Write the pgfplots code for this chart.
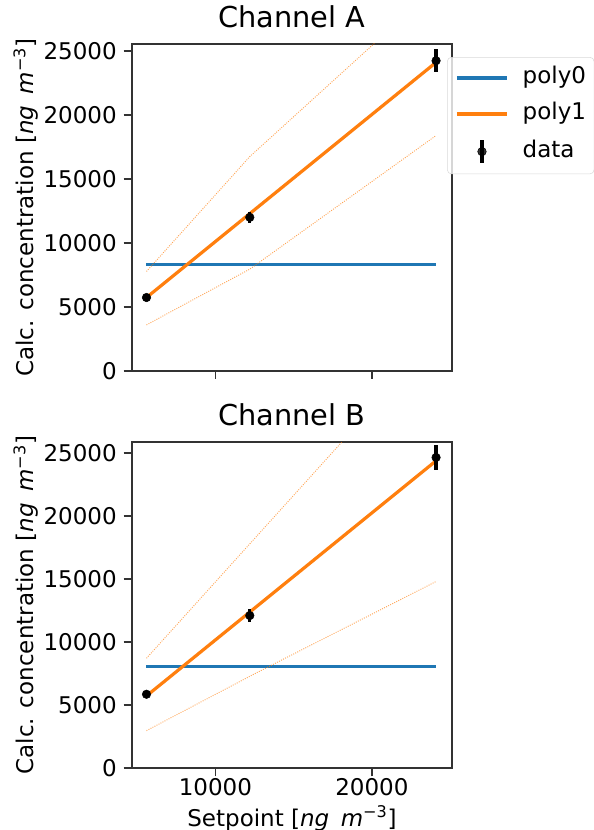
\documentclass[border=0pt]{standalone}
\usepackage{pgfplots}
\pgfplotsset{compat=1.18}
\usepackage{fontspec}
\setmainfont{DejaVu Sans}

\definecolor{tabblue}{RGB}{31,119,180}
\definecolor{taborange}{RGB}{255,127,14}

\newcommand{\unitlabel}{[\textit{ng}\hspace{0.5em}\textit{m}\textsuperscript{−3}]}

\pgfplotsset{
  calib/.style={
    scale only axis,
    width=240.4pt,
    xmin=4655, xmax=25134,
    ymin=0,
    axis line style={line width=1.3pt, black!80},
    tick align=outside,
    tick pos=left,
    major tick length=6pt,
    every tick/.style={line width=1.3pt, black!80},
    xtick={10000,20000},
    ytick={0,5000,10000,15000,20000,25000},
    scaled ticks=false,
    xticklabel={\pgfmathprintnumber[assume math mode=true, set thousands separator={}]{\tick}},
    yticklabel={\pgfmathprintnumber[assume math mode=true, set thousands separator={}]{\tick}},
    tick label style={font=\fontsize{17.25}{20}\selectfont},
    yticklabel style={inner sep=0pt, xshift=-5pt},
    xticklabel style={inner sep=0pt, yshift=-1.5pt},
    title style={font=\fontsize{21.6}{25}\selectfont, at={(axis description cs:0.5,1)}, anchor=base, yshift=6.5pt},
    every axis y label/.style={at={(axis description cs:-0.33,0.5)}, rotate=90, anchor=center, font=\fontsize{17.25}{20}\selectfont},
    every axis x label/.style={at={(axis description cs:0.5,0)}, anchor=base, yshift=-43.5pt, font=\fontsize{17.25}{20}\selectfont},
    ylabel={Calc. concentration \unitlabel},
    legend image code/.code={\draw[#1] (0pt,0pt) -- (37.5pt,0pt);},
  },
  fitline/.style={line width=2.4pt},
  band/.style={taborange, line width=0.7pt, densely dotted, opacity=0.7, forget plot},
  meas/.style={only marks, black, mark=*, mark size=3.2pt,
    error bars/.cd, y dir=both, y explicit, error mark=none,
    error bar style={line width=2.4pt, black},
    /pgfplots/.cd},
}

\begin{document}
\begin{tikzpicture}

% Channel A
\begin{axis}[calib,
  at={(98.78pt,344.25pt)}, anchor=south west,
  height=245.25pt, ymax=25550,
  title={Channel A},
  xticklabels={},
  legend cell align=left,
  legend style={at={(rel axis cs:0.984,0.960)}, anchor=north west,
    draw=black!15, rounded corners=3pt, fill=white, fill opacity=0.8, text opacity=1,
    font=\fontsize{17.25}{20}\selectfont,
    inner xsep=6pt, inner ysep=7pt, row sep=10pt,
    nodes={inner xsep=0pt, inner ysep=0pt, text height=13pt, text depth=4pt},
    /tikz/every odd column/.append style={column sep=10.6pt},
    /tikz/every even column/.append style={column sep=0pt}},
]
\addplot[tabblue, fitline] coordinates {(5600,8300) (24100,8300)};
\addlegendentry{poly0}
\addplot[taborange, fitline] coordinates {(5600,5741) (12200,12296) (24100,24113)};
\addlegendentry{poly1}
\addplot[band] coordinates {(5600,7776) (12200,16754) (24100,29980)};
\addplot[band] coordinates {(5600,3601) (12200,7959) (24100,18398)};
\addplot[meas, legend image code/.code={
    \path[draw=none, fill=none] (0pt,0pt) -- (37.5pt,0pt);
    \draw[black, line width=2.4pt] (18.75pt,-8.5pt) -- (18.75pt,8.5pt);
    \fill[black] (18.75pt,0pt) circle (3.2pt);}]
  coordinates {(5600,5741) +- (0,150) (12200,12004) +- (0,430) (24100,24243) +- (0,913)};
\addlegendentry{data}
\end{axis}

% Channel B
\begin{axis}[calib,
  at={(98.78pt,46.28pt)}, anchor=south west,
  height=244.7pt, ymax=25880,
  title={Channel B},
  xlabel={Setpoint \unitlabel},
]
\addplot[tabblue, fitline] coordinates {(5600,8069) (24100,8069)};
\addplot[taborange, fitline] coordinates {(5600,5741) (12200,12395) (24100,24392)};
\addplot[band] coordinates {(5600,8730) (12200,17804) (24100,34148)};
\addplot[band] coordinates {(5600,2989) (12200,7300) (24100,14815)};
\addplot[meas] coordinates {(5600,5873) +- (0,200) (12200,12116) +- (0,490) (24100,24656) +- (0,966)};
\end{axis}

\pgfresetboundingbox
\path (0pt,0pt) rectangle (444.75pt,622.5pt);
\end{tikzpicture}
\end{document}
